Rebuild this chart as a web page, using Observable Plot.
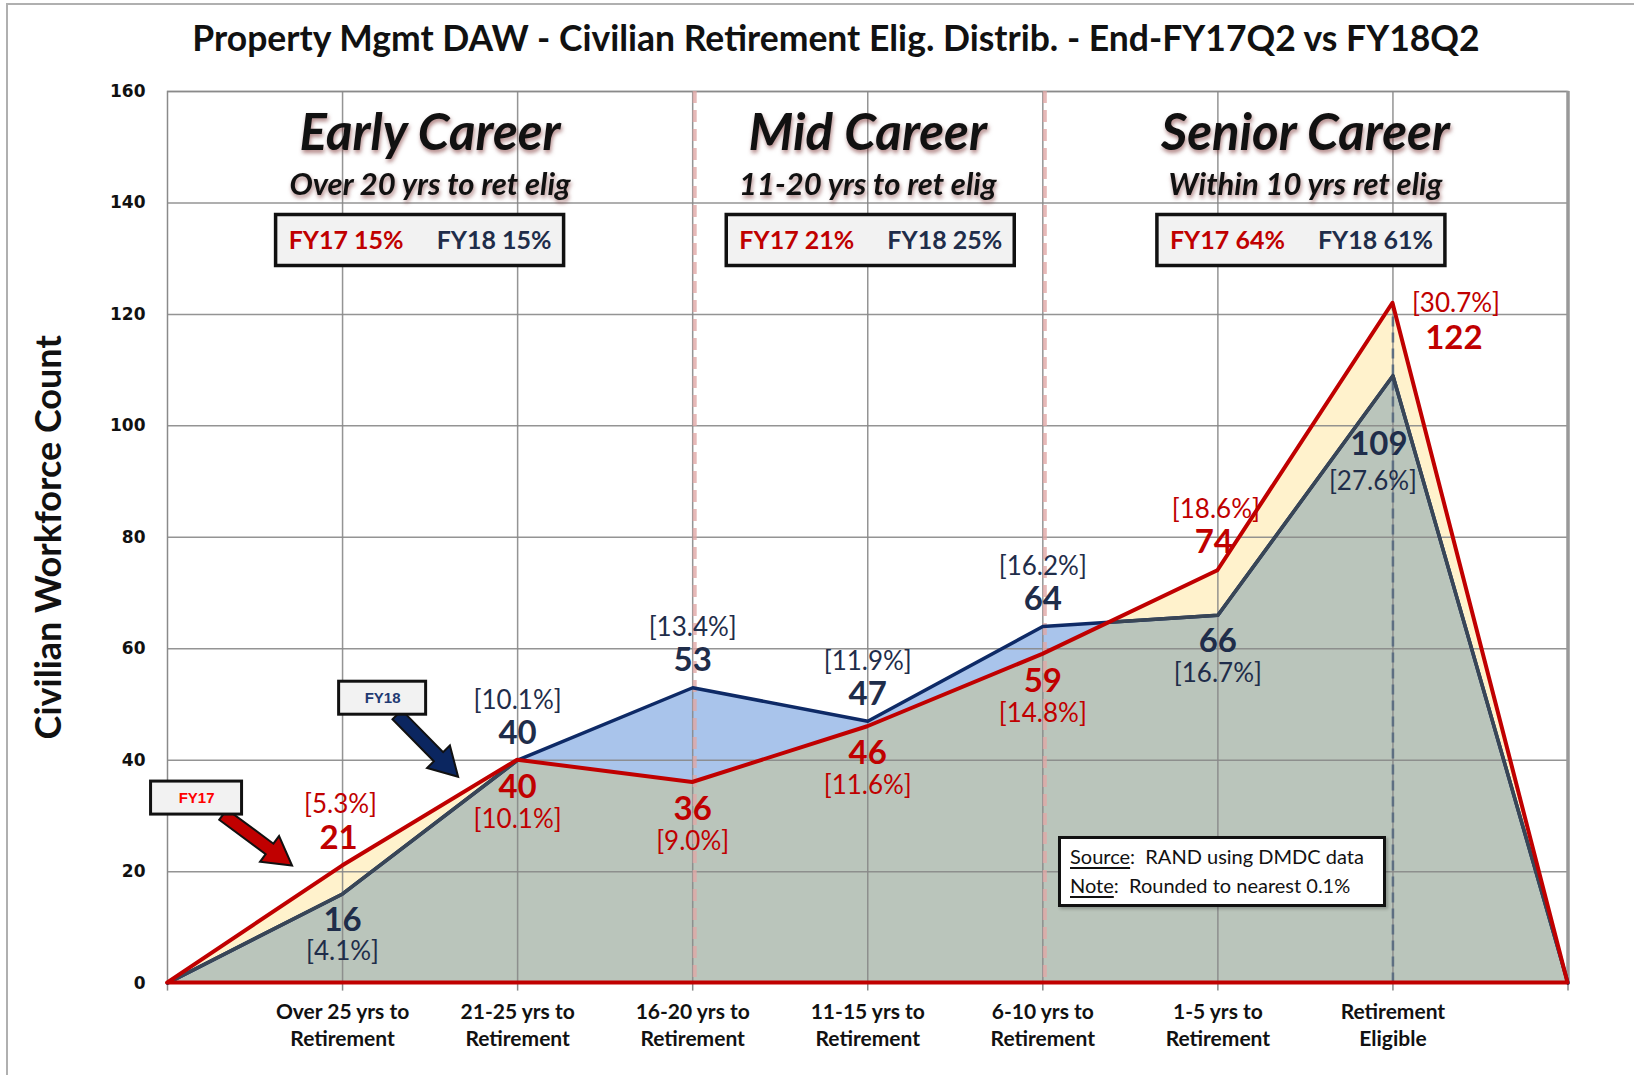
<!DOCTYPE html>
<html>
<head>
<meta charset="utf-8">
<script src="https://cdn.jsdelivr.net/npm/d3@7"></script>
<script src="https://cdn.jsdelivr.net/npm/@observablehq/plot@0.6"></script>
<style>
  body { margin: 0; background: #fff; }
  #wrap { position: relative; width: 1634px; height: 1075px; overflow: hidden; font-family: Lato, "Open Sans", sans-serif; background: #fff; }
  #borderTop { position: absolute; left: 7px; top: 3px; width: 1627px; height: 0; border-top: 2px solid #b0b0b0; }
  #borderLeft { position: absolute; left: 6px; top: 3px; width: 0; height: 1072px; border-left: 2px solid #b0b0b0; }
  #title { position: absolute; left: 38px; top: 0; width: 1596px; height: 75px; line-height: 75px; text-align: center; font-size: 35.5px; font-weight: bold; color: #111; white-space: nowrap; }
  #chart { position: absolute; left: 0; top: 70px; }
  #note { position: absolute; left: 1058px; top: 836px; border: 3px solid #111; background: #fff; font-size: 20px; color: #111; line-height: 29px; padding: 3px 0 0 9px; box-sizing: border-box; width: 328px; height: 71px; box-shadow: 2px 2px 3px rgba(0,0,0,0.25); }
  #note u { text-underline-offset: 3px; }
  g[aria-description="section-title"] text, g[aria-description="section-sub"] text { filter: drop-shadow(1px 3px 2px rgba(110,30,30,0.55)); }
</style>
</head>
<body>
<div id="wrap">
  <div id="borderTop"></div>
  <div id="borderLeft"></div>
  <div id="title">Property Mgmt DAW - Civilian Retirement Elig. Distrib. - End-FY17Q2 vs FY18Q2</div>
  <div id="chart"></div>
  <div id="note"><u>Source</u>:&nbsp; RAND using DMDC data<br><u>Note</u>:&nbsp; Rounded to nearest 0.1%</div>
</div>
<script>
// ---------------- data ----------------
const categories = ["", "Over 25 yrs to\nRetirement", "21-25 yrs to\nRetirement", "16-20 yrs to\nRetirement",
  "11-15 yrs to\nRetirement", "6-10 yrs to\nRetirement", "1-5 yrs to\nRetirement", "Retirement\nEligible", ""];
const fy17 = [0, 21, 40, 36, 46, 59, 74, 122, 0];
const fy18 = [0, 16, 40, 53, 47, 64, 66, 109, 0];
const fy17Pct = [null, 5.3, 10.1, 9.0, 11.6, 14.8, 18.6, 30.7, null];
const fy18Pct = [null, 4.1, 10.1, 13.4, 11.9, 16.2, 16.7, 27.6, null];
const sectionNames = ["Early Career", "Mid Career", "Senior Career"];
const sectionSubs = ["Over 20 yrs to ret elig", "11-20 yrs to ret elig", "Within 10 yrs ret elig"];
const sectionBounds = [0, 3, 5, 8];
const sectionFy17 = [15, 21, 64];
const sectionFy18 = [15, 25, 61];
const yTicks = [0, 20, 40, 60, 80, 100, 120, 140, 160];
const yLabel = "Civilian Workforce Count";

// ---------------- derived tables ----------------
const idx = d3.range(categories.length);
const pts17 = idx.map(i => ({x: i, y: fy17[i]}));
const pts18 = idx.map(i => ({x: i, y: fy18[i]}));
const catRows = idx.filter(i => categories[i] !== "").map(i => ({x: i, label: categories[i]}));
const sections = sectionNames.map((n, i) => ({
  name: n, sub: sectionSubs[i], x: (sectionBounds[i] + sectionBounds[i + 1]) / 2,
  t17: `FY17 ${sectionFy17[i]}%`, t18: `FY18 ${sectionFy18[i]}%`
}));
// pixel nudges of the percentage boxes relative to their section centre (layout only)
const boxNudge = [-10, 3, -4];

const RED = "#C00000", NAVY_TXT = "#1F2D4A";
const seriesDefs = [
  {key: "fy17", vals: fy17, pct: fy17Pct, other: fy18, color: RED},
  {key: "fy18", vals: fy18, pct: fy18Pct, other: fy17, color: NAVY_TXT}
];
const labelRows = [];
seriesDefs.forEach(s => {
  const peak = d3.maxIndex(s.vals);
  s.vals.forEach((v, i) => {
    if (s.pct[i] == null) return;
    const higher = s.key === "fy17" ? v > s.other[i] : v >= s.other[i];
    const place = i === peak ? "peak" : (higher ? "above" : "below");
    labelRows.push({series: s.key, x: i, y: v, num: String(v), pct: `[${s.pct[i].toFixed(1)}%]`, place});
  });
});
const placements = {
  fy17: {above: {num: [-4, -28], pct: [-2, -61]}, below: {num: [0, 27], pct: [0, 59]}, peak: {num: [61, 35], pct: [63, 0]}},
  fy18: {above: {num: [0, -27], pct: [0, -60]}, below: {num: [0, 26], pct: [0, 58]}, peak: {num: [-14, 69], pct: [-20, 106]}}
};
const labelMarks = [];
seriesDefs.forEach(s => {
  Object.entries(placements[s.key]).forEach(([place, o]) => {
    const rows = labelRows.filter(d => d.series === s.key && d.place === place);
    labelMarks.push(Plot.text(rows, {x: "x", y: "y", text: "num", fill: s.color, fontSize: 33, fontWeight: "bold", dx: o.num[0], dy: o.num[1]}));
    labelMarks.push(Plot.text(rows, {x: "x", y: "y", text: "pct", fill: s.color, fontSize: 26, dx: o.pct[0], dy: o.pct[1]}));
  });
});

// callouts anchored to a data point of each series (pixel offsets for the annotation shape)
const callouts = [
  {label: "FY17", x: 1, y: fy17[1], color: "#FF0000", arrow: RED, box: [-146, -68, 91, 33], tail: [-119, -51], tip: [-50, 0]},
  {label: "FY18", x: 2, y: fy18[2], color: "#1F3A73", arrow: "#0B2660", box: [-135, -62, 87, 33], tail: [-120, -45], tip: [-59, 17]}
];

function blockArrow(x0, y0, x1, y1, shaftW, headW, headL) {
  const dx = x1 - x0, dy = y1 - y0, L = Math.hypot(dx, dy), ux = dx / L, uy = dy / L, px = -uy, py = ux;
  const bx = x1 - ux * headL, by = y1 - uy * headL;
  const p = [
    [x0 + px * shaftW / 2, y0 + py * shaftW / 2], [bx + px * shaftW / 2, by + py * shaftW / 2],
    [bx + px * headW / 2, by + py * headW / 2], [x1, y1], [bx - px * headW / 2, by - py * headW / 2],
    [bx - px * shaftW / 2, by - py * shaftW / 2], [x0 - px * shaftW / 2, y0 - py * shaftW / 2]
  ];
  return "M" + p.map(q => q.join(",")).join("L") + "Z";
}

function boxesMark(index, scales, values, dimensions) {
  const x = scales.x, y = scales.y;
  const g = d3.create("svg:g").attr("aria-description", "annotation-boxes");
  const top = dimensions.marginTop;
  sections.forEach((s, i) => {
    g.append("rect").attr("x", x(s.x) + boxNudge[i] - 144).attr("y", top + 123.5).attr("width", 288).attr("height", 51)
      .attr("fill", "#F2F2F2").attr("stroke", "#111").attr("stroke-width", 3.5);
  });
  callouts.forEach(c => {
    const px = x(c.x), py = y(c.y);
    g.append("path").attr("d", blockArrow(px + c.tail[0], py + c.tail[1], px + c.tip[0], py + c.tip[1], 13, 32, 28))
      .attr("fill", c.arrow).attr("stroke", "#111").attr("stroke-width", 2).attr("stroke-linejoin", "miter");
    const [bx, by, bw, bh] = c.box;
    g.append("rect").attr("x", px + bx - bw / 2).attr("y", py + by - bh / 2).attr("width", bw).attr("height", bh)
      .attr("fill", "#F2F2F2").attr("stroke", "#111").attr("stroke-width", 3);
  });
  return g.node();
}

const calloutTextMarks = callouts.map(c => Plot.text([c], {
  x: "x", y: "y", text: "label", fill: c.color, fontSize: 15, fontWeight: "bold",
  fontFamily: "Liberation Sans, Arial, sans-serif", dx: c.box[0], dy: c.box[1]
}));

const boxTextMarks = sections.map((s, i) => [
  Plot.text([s], {x: "x", frameAnchor: "top", lineAnchor: "middle", dy: 149, dx: boxNudge[i] - 74, text: "t17", fontSize: 25, fontWeight: "bold", fill: RED}),
  Plot.text([s], {x: "x", frameAnchor: "top", lineAnchor: "middle", dy: 149, dx: boxNudge[i] + 74, text: "t18", fontSize: 25, fontWeight: "bold", fill: NAVY_TXT})
]).flat();

const chart = Plot.plot({
  width: 1634, height: 1005,
  marginLeft: 167, marginRight: 66.5, marginTop: 21, marginBottom: 92.4,
  x: {domain: [0, categories.length - 1]},
  y: {domain: [0, 160]},
  style: {fontFamily: "Lato, 'Open Sans', sans-serif", color: "#111", background: "transparent", overflow: "visible"},
  marks: [
    Plot.areaY(pts17, {x: "x", y: "y", fill: "#FFF2CC", ariaDescription: "fy17-area"}),
    Plot.areaY(pts18, {x: "x", y: "y", fill: "#A9C4EB", ariaDescription: "fy18-area"}),
    Plot.areaY(pts17, {x: "x", y: "y", fill: "#BAC5BB", ariaDescription: "overlap-area"}),
    Plot.gridY(yTicks, {stroke: "#888", strokeOpacity: 0.9, strokeWidth: 1.5}),
    Plot.gridX(catRows.map(d => d.x), {stroke: "#888", strokeOpacity: 0.9, strokeWidth: 1.5}),
    Plot.frame({stroke: "#8a8a8a", strokeWidth: 1.5}),
    Plot.ruleX([categories.length - 1], {stroke: "#999", strokeWidth: 3.5, y1: 0, y2: 160}),
    Plot.ruleX(sectionBounds.slice(1, -1), {stroke: "#E0A8A6", strokeWidth: 4, strokeOpacity: 0.8, strokeDasharray: "12,7", dx: 2}),
    Plot.ruleX([d3.maxIndex(fy17)], {y1: 0, y2: d3.max(fy17), stroke: "#5E6F82", strokeWidth: 2.5, strokeDasharray: "10,6"}),
    Plot.axisX(idx, {tickSize: 8, tickFormat: () => "", stroke: "#888", strokeWidth: 1.5, label: null}),
    Plot.axisY(yTicks, {tickSize: 0, tickPadding: 22, fontSize: 17, fontWeight: "bold", fontFamily: "DejaVu Sans, Verdana, sans-serif", label: null}),
    Plot.text(catRows, {x: "x", frameAnchor: "bottom", lineAnchor: "top", dy: 17, text: "label", fontSize: 21, fontWeight: "bold", lineHeight: 1.29, fill: "#111"}),
    Plot.text([yLabel], {frameAnchor: "left", textAnchor: "middle", lineAnchor: "middle", dx: -118, rotate: -90, text: d => d, fontSize: 36, fontWeight: "bold", fill: "#111"}),
    Plot.lineY(pts18, {x: "x", y: "y", stroke: "#0E2A66", strokeWidth: 3.5, strokeLinejoin: "round", ariaDescription: "fy18-line"}),
    Plot.lineY(pts18, {x: "x", y: "y", stroke: "#394656", strokeWidth: 3.5, strokeLinejoin: "round", ariaDescription: "fy18-line-dark"}),
    Plot.areaY(pts17, {x: "x", y: "y", fill: "none", stroke: RED, strokeWidth: 4, strokeLinejoin: "round", ariaDescription: "fy17-outline"}),
    Plot.text(sections, {x: "x", frameAnchor: "top", lineAnchor: "middle", dy: 42, text: "name", fontSize: 51, fontWeight: "bold", fontStyle: "italic", fill: "#111", ariaDescription: "section-title"}),
    Plot.text(sections, {x: "x", frameAnchor: "top", lineAnchor: "middle", dy: 94, text: "sub", fontSize: 31, fontWeight: "bold", fontStyle: "italic", fill: "#111", ariaDescription: "section-sub"}),
    boxesMark,
    ...boxTextMarks,
    ...calloutTextMarks,
    ...labelMarks
  ]
});

document.getElementById("chart").appendChild(chart);

// ---- clip overlaps: gray = FY17 area ∩ FY18 area; dark FY18 line inside FY17 area ----
const svgEl = chart.tagName.toLowerCase() === "svg" ? chart : chart.querySelector("svg");
const NS = "http://www.w3.org/2000/svg";
const defs = document.createElementNS(NS, "defs");
svgEl.insertBefore(defs, svgEl.firstChild);
function clipWith(srcDesc, targetDesc, id) {
  const srcG = svgEl.querySelector(`g[aria-description="${srcDesc}"]`);
  const tg = svgEl.querySelector(`g[aria-description="${targetDesc}"]`);
  if (!srcG || !tg) return;
  const cp = document.createElementNS(NS, "clipPath");
  cp.setAttribute("id", id);
  srcG.querySelectorAll("path").forEach(p => {
    const c = p.cloneNode(false);
    if (srcG.getAttribute("transform")) c.setAttribute("transform", srcG.getAttribute("transform"));
    cp.appendChild(c);
  });
  defs.appendChild(cp);
  const wrapper = document.createElementNS(NS, "g");
  tg.parentNode.insertBefore(wrapper, tg);
  wrapper.appendChild(tg);
  wrapper.setAttribute("clip-path", `url(#${id})`);
}
clipWith("fy18-area", "overlap-area", "clip18");
clipWith("fy17-area", "fy18-line-dark", "clip17");
</script>
</body>
</html>
